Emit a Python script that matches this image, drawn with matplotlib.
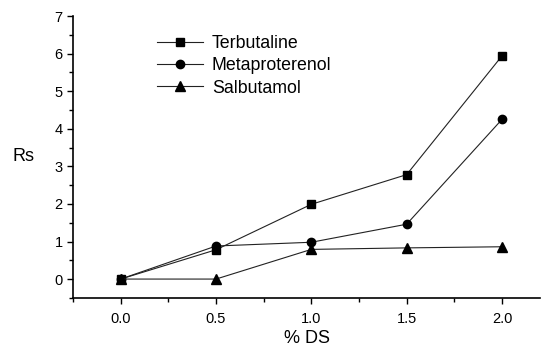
import matplotlib
matplotlib.use("Agg")
import matplotlib.pyplot as plt
from matplotlib.ticker import MultipleLocator

plt.rcParams['font.family'] = ['Liberation Sans', 'DejaVu Sans']

ds = [0.0, 0.5, 1.0, 1.5, 2.0]
terbutaline = [0.0, 0.78, 1.99, 2.78, 5.94]
metaproterenol = [0.0, 0.88, 0.98, 1.46, 4.25]
salbutamol = [0.0, 0.0, 0.79, 0.83, 0.86]

fig = plt.figure(figsize=(5.45, 3.5), dpi=100)
ax = fig.add_axes([0.134, 0.149, 0.857, 0.805])

ax.plot(ds, terbutaline, color='#222222', lw=0.8, marker='s', ms=5.5, mfc='black', mec='black', label='Terbutaline')
ax.plot(ds, metaproterenol, color='#222222', lw=0.8, marker='o', ms=6, mfc='black', mec='black', label='Metaproterenol')
ax.plot(ds, salbutamol, color='#222222', lw=0.8, marker='^', ms=6.5, mfc='black', mec='black', label='Salbutamol')

ax.set_xlim(-0.25, 2.2)
ax.set_ylim(-0.5, 7)
ax.xaxis.set_major_locator(MultipleLocator(0.5))
ax.xaxis.set_minor_locator(MultipleLocator(0.25))
ax.yaxis.set_major_locator(MultipleLocator(1))
ax.yaxis.set_minor_locator(MultipleLocator(0.5))
ax.set_xticks([0.0, 0.5, 1.0, 1.5, 2.0])
ax.set_xticklabels(['0.0', '0.5', '1.0', '1.5', '2.0'])
ax.spines['top'].set_visible(False)
ax.spines['right'].set_visible(False)
for s in ('left', 'bottom'):
    ax.spines[s].set_linewidth(1.2)
ax.tick_params(which='major', length=4, width=1, labelsize=10.5, direction='out')
ax.tick_params(which='minor', length=3, width=1, direction='out')
ax.tick_params(axis='x', pad=6)

ax.set_xlabel('% DS', fontsize=13, labelpad=3)
ax.set_ylabel('Rs', fontsize=13, rotation=0, labelpad=22, va='center')

leg = ax.legend(loc='upper left', bbox_to_anchor=(0.145, 0.99), frameon=False, fontsize=12.8,
                handlelength=2.6, labelspacing=0.3, handletextpad=0.5)

fig.savefig('out.png', dpi=100)
